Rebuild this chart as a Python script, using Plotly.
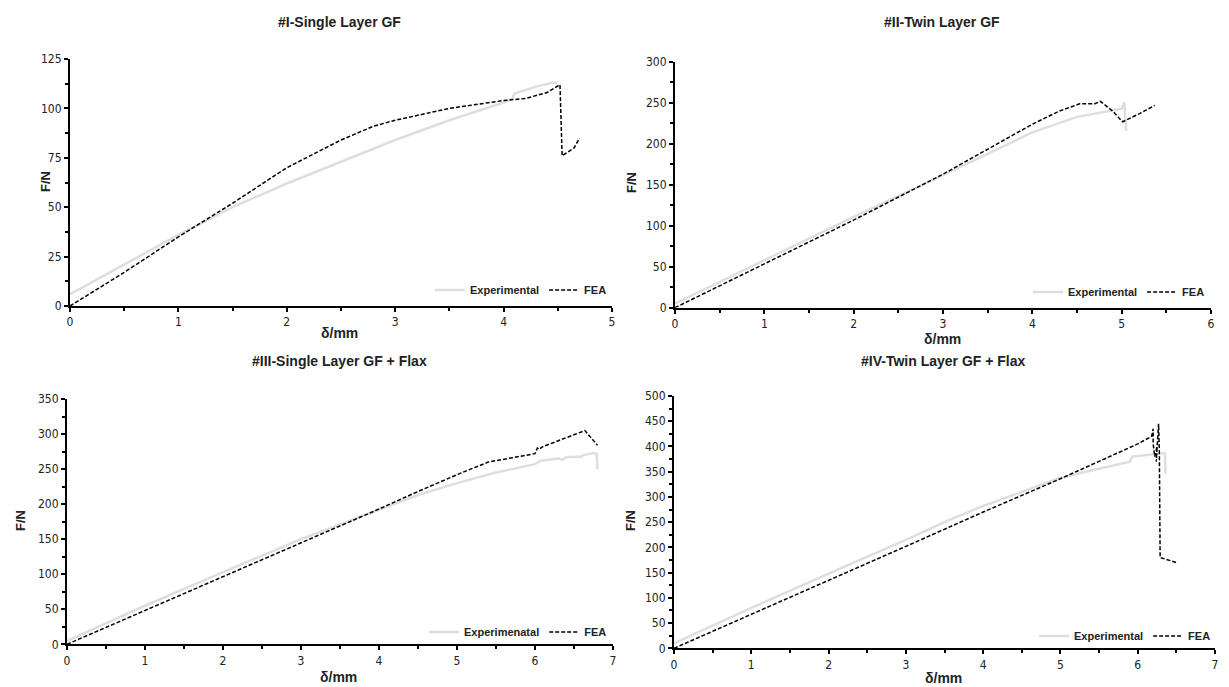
import plotly.graph_objects as go

# ---------------- data ----------------
titles = ["#I-Single Layer GF", "#II-Twin Layer GF",
          "#III-Single Layer GF + Flax", "#IV-Twin Layer GF + Flax"]
exp_names = ["Experimental", "Experimental", "Experimenatal", "Experimental"]

# Panel I
exp1_x = [0, 0.5, 1, 1.5, 2, 2.5, 3, 3.5, 4, 4.08, 4.1, 4.3, 4.45, 4.5]
exp1_y = [6, 21, 36, 50, 62, 73, 84, 94, 103, 105, 107.5, 111, 113, 113]
fea1_x = [0, 0.5, 1, 1.5, 2, 2.5, 2.8, 3, 3.5, 4, 4.2, 4.4, 4.52, 4.54, 4.65, 4.7]
fea1_y = [0, 17, 35, 52, 70, 84, 91, 94, 100, 104, 105, 108, 112, 76, 80, 85]

# Panel II
exp2_x = [0, 1, 2, 3, 3.5, 4, 4.5, 4.87, 5.0, 5.03, 5.05]
exp2_y = [5, 58, 111, 162, 188, 214, 233, 241, 243, 251, 216]
fea2_x = [0, 1, 2, 3, 3.5, 4, 4.3, 4.53, 4.7, 4.76, 4.9, 5.01, 5.2, 5.37]
fea2_y = [0, 53, 107, 163, 194, 224, 240, 249, 249, 252, 240, 227, 237, 247]

# Panel III
exp3_x = [0, 1, 2, 3, 4, 4.5, 5, 5.5, 6, 6.07, 6.3, 6.35, 6.4, 6.6, 6.62, 6.75, 6.79, 6.8]
exp3_y = [5, 55, 103, 150, 192, 213, 230, 245, 257, 262, 265, 263, 267, 268, 270, 273, 272, 250]
fea3_x = [0, 1, 2, 3, 4, 4.5, 5, 5.4, 6.0, 6.03, 6.05, 6.1, 6.64, 6.8]
fea3_y = [0, 48, 96, 145, 193, 218, 242, 260, 272, 280, 278, 282, 305, 284]

# Panel IV
exp4_x = [0, 1, 2, 3, 3.57, 4, 4.5, 5, 5.5, 5.9, 5.93, 6.2, 6.35, 6.36]
exp4_y = [10, 80, 148, 215, 255, 282, 310, 338, 356, 370, 380, 385, 387, 346]
fea4_x = [0, 1, 2, 3, 4, 5, 6, 6.18, 6.2, 6.2, 6.22, 6.25, 6.24, 6.27, 6.28, 6.29, 6.5]
fea4_y = [0, 67, 135, 202, 270, 336, 405, 420, 435, 405, 380, 400, 370, 445, 390, 180, 170]

exp_x = [exp1_x, exp2_x, exp3_x, exp4_x]
exp_y = [exp1_y, exp2_y, exp3_y, exp4_y]
fea_x = [fea1_x, fea2_x, fea3_x, fea4_x]
fea_y = [fea1_y, fea2_y, fea3_y, fea4_y]

x_max = [5, 6, 7, 7]
y_max = [125, 300, 350, 500]
y_dtick = [25, 50, 50, 50]

# ---------------- layout geometry (pixels) ----------------
W, H = 1229, 687
OFF = 8  # page body margin


def px(p):
    return (p - OFF) / W


def py(p):
    return 1 - (p - OFF) / H


# (left, right, top, bottom) in pixels
boxes = [(70, 612, 59, 306), (675, 1211, 62, 307.7),
         (67, 613, 399, 644.3), (674, 1215, 396, 648.3)]
title_pos = [(340, 22), (942, 22), (340, 361), (943, 361)]
xlab_pos = [(340, 333), (942, 339), (338, 677), (943, 678)]
ylab_pos = [(46, 182), (632, 183), (20, 521), (630, 521)]
legend_pos = [(612, 290), (1210, 292), (612, 632), (1216, 636)]

EXP_COLOR = "#dedede"
FONT = "Liberation Sans, Arial, sans-serif"
TICKFONT = dict(family="Liberation Sans Narrow, DejaVu Sans Condensed, Arial Narrow, sans-serif",
                size=12, color="#222")

fig = go.Figure()
layout = dict(width=W, height=H, margin=dict(l=0, r=0, t=0, b=0, autoexpand=False),
              plot_bgcolor="white", paper_bgcolor="white", showlegend=True)
annotations = []

for i in range(4):
    sfx = "" if i == 0 else str(i + 1)
    leg = "legend" if i == 0 else "legend" + str(i + 1)
    fig.add_trace(go.Scatter(x=exp_x[i], y=exp_y[i], mode="lines", name=exp_names[i],
                             line=dict(color=EXP_COLOR, width=2.5),
                             xaxis="x" + sfx, yaxis="y" + sfx, legend=leg))
    fig.add_trace(go.Scatter(x=fea_x[i], y=fea_y[i], mode="lines", name="FEA",
                             line=dict(color="black", width=1.5, dash="4px,2px"),
                             xaxis="x" + sfx, yaxis="y" + sfx, legend=leg))
    l, r, t, b = boxes[i]
    layout["xaxis" + sfx] = dict(
        domain=[px(l), px(r)], anchor="y" + sfx, range=[0, x_max[i]], automargin=False,
        dtick=1, tick0=0, ticks="outside", ticklen=4, tickwidth=1.5, tickcolor="black",
        showline=True, linecolor="black", linewidth=2, showgrid=False, zeroline=False,
        tickfont=TICKFONT, fixedrange=True,
        minor=dict(dtick=0.5, ticks="outside", ticklen=3, tickcolor="black", showgrid=False))
    layout["yaxis" + sfx] = dict(
        domain=[py(b), py(t)], anchor="x" + sfx, range=[0, y_max[i]], automargin=False,
        dtick=y_dtick[i], tick0=0, ticks="outside", ticklen=4, tickwidth=1.5, tickcolor="black",
        showline=True, linecolor="black", linewidth=2, showgrid=False, zeroline=False,
        tickfont=TICKFONT, fixedrange=True,
        minor=dict(dtick=y_dtick[i] / 2, ticks="outside", ticklen=3, tickcolor="black",
                   showgrid=False))
    lx, ly = legend_pos[i]
    layout[leg] = dict(orientation="h", x=px(lx), y=py(ly), xanchor="right",
                       yanchor="middle", bgcolor="rgba(0,0,0,0)",
                       font=dict(family=FONT, size=11, color="#222", weight="bold"),
                       itemwidth=30, tracegroupgap=0)
    tx, ty = title_pos[i]
    annotations.append(dict(text="<b>" + titles[i] + "</b>", x=px(tx), y=py(ty),
                            xanchor="center", yanchor="middle",
                            xref="paper", yref="paper", showarrow=False,
                            font=dict(family=FONT, size=14, color="#222")))
    ax, ay = xlab_pos[i]
    annotations.append(dict(text="<b>δ/mm</b>", x=px(ax), y=py(ay),
                            xanchor="center", yanchor="middle",
                            xref="paper", yref="paper", showarrow=False,
                            font=dict(family=FONT, size=14, color="#222")))
    yx, yy = ylab_pos[i]
    annotations.append(dict(text="<b>F/N</b>", x=px(yx), y=py(yy), textangle=-90,
                            xanchor="center", yanchor="middle",
                            xref="paper", yref="paper", showarrow=False,
                            font=dict(family=FONT, size=13, color="#222")))

layout["annotations"] = annotations
fig.update_layout(**layout)
fig.write_html("out.html")
